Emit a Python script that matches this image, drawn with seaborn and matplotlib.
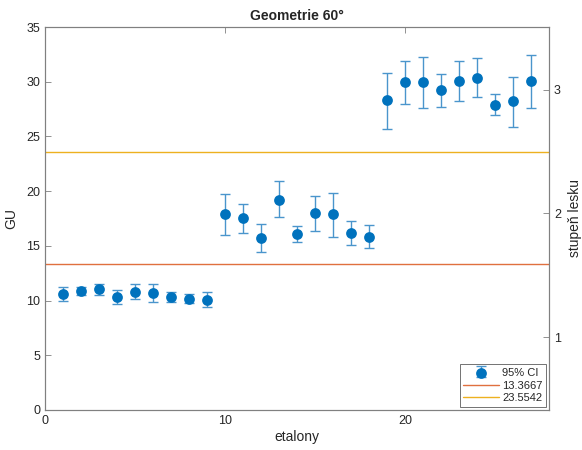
import numpy as np
import matplotlib
matplotlib.use("Agg")
import matplotlib.pyplot as plt
import seaborn as sns
from matplotlib.legend_handler import HandlerTuple

sns.set_style("white")
plt.rcParams['font.family'] = ['Liberation Sans', 'DejaVu Sans']

etalony = np.arange(1, 28)
gu = [10.64, 10.88, 11.03, 10.33, 10.82, 10.69, 10.36, 10.18, 10.09,
      17.87, 17.50, 15.68, 19.23, 16.04, 17.96, 17.87, 16.20, 15.83,
      28.29, 29.96, 29.96, 29.20, 30.11, 30.38, 27.87, 28.20, 30.02]
ci_low = [9.96, 10.48, 10.54, 9.66, 10.12, 9.91, 9.91, 9.75, 9.42,
          15.95, 16.20, 14.47, 17.62, 15.31, 16.35, 15.80, 15.07, 14.77,
          25.68, 27.96, 27.59, 27.68, 28.20, 28.60, 26.95, 25.89, 27.56]
ci_high = [11.28, 11.24, 11.55, 10.97, 11.49, 11.49, 10.82, 10.64, 10.76,
           19.75, 18.84, 17.02, 20.88, 16.80, 19.54, 19.84, 17.26, 16.89,
           30.84, 31.93, 32.29, 30.69, 31.93, 32.20, 28.87, 30.47, 32.42]
limits = [13.3667, 23.5542]
limit_labels = ['13.3667', '23.5542']
limit_colors = ['#E0703F', '#EDB120']

gu = np.array(gu)
yerr = [gu - np.array(ci_low), np.array(ci_high) - gu]

fig = plt.figure(figsize=(5.82, 4.5), dpi=100)
ax = fig.add_axes([0.0773, 0.089, 0.866, 0.851])

eb = ax.errorbar(etalony, gu, yerr=yerr, fmt='none', ecolor='#4a95cc',
                 elinewidth=1, capsize=3.5, capthick=1, zorder=2)
sns.scatterplot(x=etalony, y=gu, ax=ax, color='#0072BD', s=60,
                edgecolor='#0072BD', linewidth=0, zorder=3, legend=False)
pts = ax.collections[-1]

lines = []
for val, lab, col in zip(limits, limit_labels, limit_colors):
    ln = ax.axhline(val, color=col, lw=1, zorder=1, label=lab)
    lines.append(ln)

ax.set_xlim(0, 28)
ax.set_ylim(0, 35)
ax.set_xticks([0, 10, 20])
ax.set_yticks(np.arange(0, 36, 5))
ax.set_xlabel('etalony', fontsize=10, color='#262626', labelpad=2)
ax.set_ylabel('GU', fontsize=10, color='#262626', labelpad=6)
ax.set_title('Geometrie 60°', fontsize=10, fontweight='bold', pad=5)

ax2 = ax.twinx()
ax2.set_ylim(0.411, 3.508)
ax2.set_yticks([1, 2, 3])
ax2.set_ylabel('stupeň lesku', fontsize=10, color='#262626', labelpad=5)

for a in (ax, ax2):
    for sp in a.spines.values():
        sp.set_color('#808080')
        sp.set_linewidth(0.8)
    a.tick_params(direction='in', length=4, width=0.6, colors='#808080',
                  labelcolor='#262626', labelsize=9)
ax.tick_params(top=True, right=False)

leg = ax.legend([(eb, pts), lines[0], lines[1]], ['95% CI'] + limit_labels,
                handler_map={tuple: HandlerTuple(ndivide=1)},
                loc='lower right', fontsize=8, frameon=True, fancybox=False,
                edgecolor='#333333', borderaxespad=0.3, handlelength=3.2,
                borderpad=0.3, labelspacing=0.25, handletextpad=0.3)
leg.get_frame().set_linewidth(0.6)

fig.savefig('out.png', dpi=100)
